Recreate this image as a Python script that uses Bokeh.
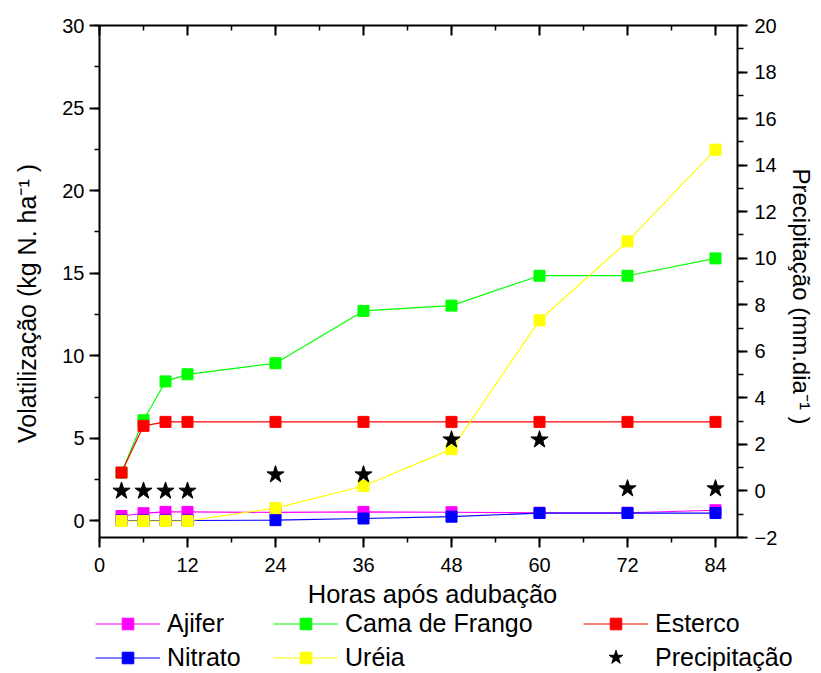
import math
from bokeh.plotting import figure
from bokeh.layouts import row, column
from bokeh.models import (LinearAxis, Range1d, SingleIntervalTicker, Legend,
                          LegendItem, Label)
from bokeh.embed import file_html
from bokeh.resources import INLINE

# ---------------- data ----------------
hours = [3, 6, 9, 12, 24, 36, 48, 60, 72, 84]
ajifer = [0.30, 0.47, 0.55, 0.55, 0.52, 0.55, 0.53, 0.50, 0.50, 0.65]
cama_frango = [2.93, 6.10, 8.45, 8.88, 9.55, 12.72, 13.04, 14.85, 14.85, 15.90]
esterco = [2.93, 5.76, 6.00, 6.00, 6.00, 6.00, 6.00, 6.00, 6.00, 6.00]
nitrato = [0.03, 0.03, 0.03, 0.03, 0.05, 0.15, 0.26, 0.48, 0.48, 0.48]
ureia = [0.00, 0.00, 0.00, 0.00, 0.78, 2.12, 4.35, 12.15, 16.93, 22.48]
precipitacao = [0.0, 0.0, 0.0, 0.0, 0.7, 0.7, 2.2, 2.2, 0.1, 0.1]

series_names = ["Ajifer", "Cama de Frango", "Esterco", "Nitrato", "Uréia"]
series_values = [ajifer, cama_frango, esterco, nitrato, ureia]
series_colors = ["#FF00FF", "#00FF00", "#FF0000", "#0000FF", "#FFFF00"]
precip_name = "Precipitação"

x_title = "Horas após adubação"
y_title = "Volatilização (kg N. ha⁻¹ )"
y2_title = "Precipitação (mm.dia⁻¹ )"

FONT = "Liberation Sans"
TOP_H = 578
FRAME_BOTTOM = 537   # side figures share the main plot's frame in the row


def draw_series(fig):
    rends = {}
    for name, vals, col in zip(series_names, series_values, series_colors):
        ln = fig.line(hours, vals, line_color=col, line_width=1.2)
        sc = fig.scatter(hours, vals, marker="square", size=11,
                         fill_color=col, line_color=col)
        rends[name] = [ln, sc]
    kw = {"y_range_name": "right"} if "right" in fig.extra_y_ranges else {}
    st = fig.scatter(hours, precipitacao, marker="star", size=18,
                     fill_color="black", line_color="black", **kw)
    rends[precip_name] = [st]
    return rends


def blank_fig(w, h):
    f = figure(width=w, height=h, output_backend="svg", toolbar_location=None,
               min_border=0, x_axis_location=None, y_axis_location=None,
               x_range=Range1d(1000, 1001), y_range=Range1d(1000, 1001))
    f.outline_line_color = None
    f.grid.visible = False
    return f


# ---------------- main plot ----------------
p = figure(width=735, height=TOP_H, output_backend="svg", toolbar_location=None,
           x_range=Range1d(0, 87), y_range=Range1d(-1, 30),
           min_border_left=54, min_border_right=43,
           min_border_top=25, min_border_bottom=41)
p.extra_y_ranges = {"right": Range1d(-2, 20)}
p.grid.visible = False
p.outline_line_color = None


def style_axis(ax):
    ax.axis_line_width = 2
    ax.axis_line_color = "black"
    ax.major_tick_line_width = 2
    ax.minor_tick_line_width = 1.5
    ax.major_tick_line_color = "black"
    ax.minor_tick_line_color = "black"
    ax.major_label_text_font = FONT
    ax.major_label_text_font_size = "20px"
    ax.major_label_text_color = "black"


xa = p.xaxis[0]
xa.ticker = SingleIntervalTicker(interval=12, num_minor_ticks=2)
style_axis(xa)
xa.major_tick_out = 10
xa.major_tick_in = 0
xa.minor_tick_out = 5
xa.minor_tick_in = 0
xa.major_label_standoff = 10

ya = p.yaxis[0]
ya.ticker = SingleIntervalTicker(interval=5, num_minor_ticks=2)
style_axis(ya)
ya.major_tick_out = 10
ya.major_tick_in = 0
ya.minor_tick_out = 5
ya.minor_tick_in = 0

top = LinearAxis(ticker=SingleIntervalTicker(interval=12, num_minor_ticks=2))
style_axis(top)
top.major_tick_in = 10
top.major_tick_out = 0
top.minor_tick_in = 5
top.minor_tick_out = 0
top.major_label_overrides = {float(t): "" for t in range(0, 97, 12)}
top.major_label_text_font_size = "0px"
top.major_label_standoff = 0
p.add_layout(top, "above")

ra = LinearAxis(y_range_name="right",
                ticker=SingleIntervalTicker(interval=2, num_minor_ticks=2))
style_axis(ra)
ra.major_tick_out = 10
ra.major_tick_in = 0
ra.minor_tick_out = 6
ra.minor_tick_in = 0
ra.major_label_standoff = 7
p.add_layout(ra, "right")

draw_series(p)

# ---------------- side title figures ----------------
left_fig = blank_fig(45, TOP_H)
left_fig.add_layout(Label(x=26.5, y=FRAME_BOTTOM - 303, x_units="screen",
                          y_units="screen", text=y_title, angle=math.pi / 2,
                          text_align="center", text_baseline="middle",
                          text_font=FONT, text_font_size="25px",
                          text_color="black"))

right_fig = blank_fig(35, TOP_H)
right_fig.add_layout(Label(x=21, y=FRAME_BOTTOM - 296, x_units="screen",
                           y_units="screen", text=y2_title, angle=-math.pi / 2,
                           text_align="center", text_baseline="middle",
                           text_font=FONT, text_font_size="24px",
                           text_color="black"))

# ---------------- bottom figure: x title + legends ----------------
LEG_H = 94
bottom_fig = blank_fig(815, LEG_H)
bottom_fig.extra_y_ranges = {"right": Range1d(1000, 1001)}
leg_rends = draw_series(bottom_fig)

bottom_fig.add_layout(Label(x=432, y=LEG_H - 15, x_units="screen", y_units="screen",
                            text=x_title, text_align="center", text_baseline="middle",
                            text_font=FONT, text_font_size="25.5px",
                            text_color="black"))

ROW_CENTERS = [45.5, 79.0]
COL_LEFTS = [95, 273, 583]
legend_grid = [["Ajifer", "Cama de Frango", "Esterco"],
               ["Nitrato", "Uréia", precip_name]]


def make_legend(name, left, center, gh):
    lg = Legend(items=[LegendItem(label=name, renderers=leg_rends[name])],
                location=(left, LEG_H - (center + gh / 2)),
                orientation="vertical",
                glyph_width=65, glyph_height=gh, label_height=gh,
                label_standoff=7, spacing=0, padding=0, margin=0,
                border_line_color=None, background_fill_alpha=0,
                label_text_font=FONT, label_text_font_size="25px",
                label_text_color="black")
    bottom_fig.add_layout(lg, "center")


for r, names in enumerate(legend_grid):
    for c, name in enumerate(names):
        gh = 36 if name == precip_name else 29
        make_legend(name, COL_LEFTS[c], ROW_CENTERS[r], gh)

layout = column(row(left_fig, p, right_fig), bottom_fig)

open("out.html", "w").write(file_html(layout, INLINE))
